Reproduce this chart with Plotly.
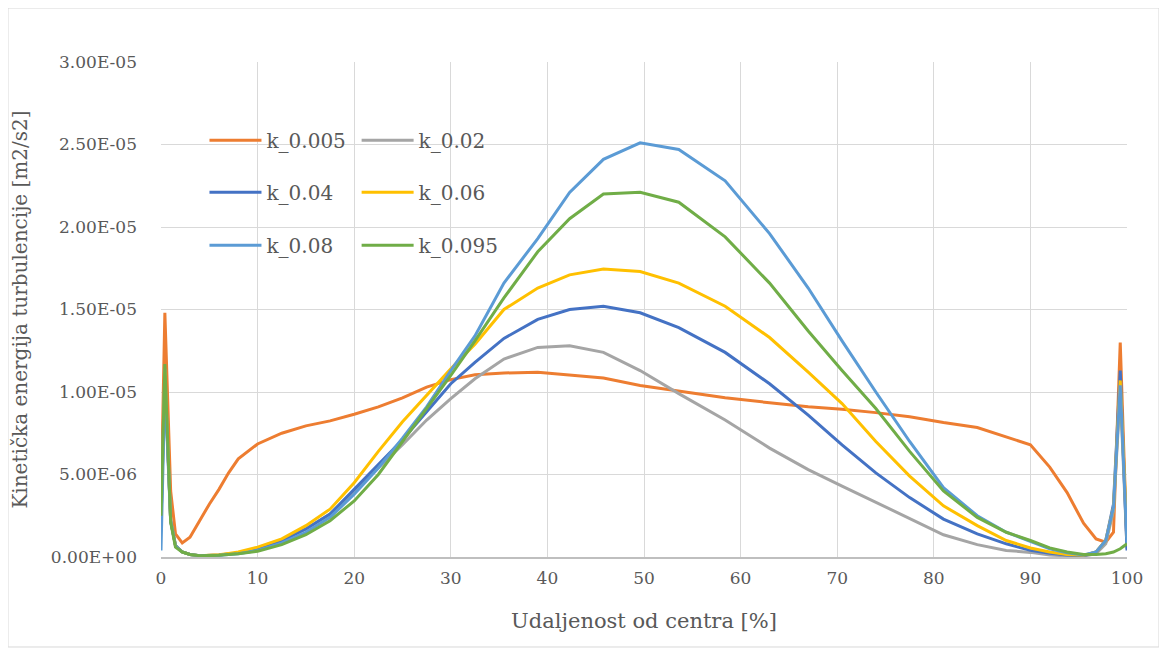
import numpy as np
import plotly.graph_objects as go

# distance from centre [%]
x_pos = [0, 0.4, 1.0, 1.5, 2.2, 3, 4, 5, 6, 7, 8, 10, 12.5, 15, 17.5, 20, 22.5, 25, 27.5, 30,
         32.5, 35.5, 39, 42.3, 45.8, 49.6, 53.6, 58.4, 63, 67, 70.5, 74, 77.5, 81, 84.5, 87.5,
         90, 92, 93.8, 95.5, 96.8, 97.8, 98.6, 99.3, 100]

# turbulent kinetic energy, in 1e-6 m2/s2
k_0005 = [3.0, 14.8, 4.0, 1.4, 0.85, 1.2, 2.2, 3.2, 4.1, 5.1, 5.95, 6.85, 7.5, 7.95, 8.25, 8.65,
          9.1, 9.65, 10.3, 10.75, 11.05, 11.15, 11.2, 11.05, 10.85, 10.4, 10.05, 9.65, 9.35, 9.1,
          8.95, 8.75, 8.5, 8.15, 7.85, 7.3, 6.8, 5.45, 3.9, 2.05, 1.1, 0.9, 1.5, 13.0, 0.6]
k_002 = [2.0, 11.4, 2.2, 0.7, 0.3, 0.15, 0.08, 0.08, 0.12, 0.18, 0.25, 0.5, 1.0, 1.7, 2.6, 4.0,
         5.4, 6.8, 8.3, 9.6, 10.8, 12.0, 12.7, 12.8, 12.4, 11.3, 9.9, 8.3, 6.6, 5.3, 4.3, 3.3,
         2.3, 1.35, 0.75, 0.4, 0.28, 0.12, 0.07, 0.05, 0.2, 0.8, 2.8, 10.0, 0.5]
k_004 = [2.0, 11.0, 2.2, 0.7, 0.3, 0.15, 0.08, 0.08, 0.12, 0.18, 0.25, 0.5, 1.0, 1.7, 2.6, 4.1,
         5.6, 7.1, 8.8, 10.5, 11.8, 13.25, 14.4, 15.0, 15.2, 14.8, 13.9, 12.4, 10.5, 8.6, 6.8,
         5.1, 3.6, 2.3, 1.4, 0.8, 0.4, 0.22, 0.12, 0.08, 0.3, 1.0, 3.2, 11.3, 0.4]
k_006 = [2.0, 11.2, 2.2, 0.7, 0.3, 0.15, 0.08, 0.1, 0.14, 0.22, 0.3, 0.6, 1.1, 1.9, 2.9, 4.5,
         6.4, 8.2, 9.8, 11.4, 12.9, 15.0, 16.3, 17.1, 17.45, 17.3, 16.6, 15.2, 13.3, 11.2, 9.3,
         7.0, 4.9, 3.1, 1.9, 1.0, 0.55, 0.3, 0.15, 0.1, 0.3, 1.0, 3.0, 10.7, 1.2]
k_008 = [0.4, 10.4, 2.2, 0.7, 0.3, 0.15, 0.08, 0.08, 0.1, 0.15, 0.2, 0.4, 0.85, 1.5, 2.4, 3.8,
         5.4, 7.2, 9.1, 11.3, 13.4, 16.6, 19.3, 22.1, 24.1, 25.1, 24.7, 22.8, 19.6, 16.3, 13.1,
         10.0, 7.0, 4.2, 2.5, 1.5, 0.95, 0.5, 0.25, 0.12, 0.3, 1.0, 3.0, 10.4, 0.8]
k_0095 = [2.5, 11.7, 2.1, 0.6, 0.3, 0.15, 0.08, 0.08, 0.1, 0.15, 0.2, 0.35, 0.75, 1.35, 2.2, 3.4,
          5.0, 7.0, 9.0, 11.0, 13.1, 15.7, 18.5, 20.5, 22.0, 22.1, 21.5, 19.4, 16.6, 13.7, 11.3,
          9.0, 6.4, 4.0, 2.4, 1.5, 1.0, 0.55, 0.3, 0.15, 0.15, 0.2, 0.3, 0.5, 0.8]

series_names = ["k_0.005", "k_0.02", "k_0.04", "k_0.06", "k_0.08", "k_0.095"]
series_colors = ["#ED7D31", "#A5A5A5", "#4472C4", "#FFC000", "#5B9BD5", "#70AD47"]
series_vals = [k_0005, k_002, k_004, k_006, k_008, k_0095]

y_tick_vals = [0, 5e-6, 1e-5, 1.5e-5, 2e-5, 2.5e-5, 3e-5]
y_tick_text = ["0.00E+00", "5.00E-06", "1.00E-05", "1.50E-05", "2.00E-05", "2.50E-05", "3.00E-05"]

font = "DejaVu Serif"
txt = "#595959"

# legend grid: 2 columns x 3 rows, one legend box per entry
leg_x = [0.045, 0.2025] * 3
leg_y = [0.842, 0.842, 0.737, 0.737, 0.630, 0.630]
leg_ids = ["legend"] + ["legend%d" % i for i in range(2, 7)]

fig = go.Figure()
for name, col, vals, lg in zip(series_names, series_colors, series_vals, leg_ids):
    fig.add_trace(go.Scatter(x=x_pos, y=np.array(vals) * 1e-6, mode="lines", name=name,
                             line=dict(color=col, width=3), legend=lg, showlegend=True))

legends = {}
for lg, lx, ly in zip(leg_ids, leg_x, leg_y):
    legends[lg] = dict(x=lx, y=ly, xanchor="left", yanchor="middle", bgcolor="rgba(0,0,0,0)",
                       font=dict(family=font, size=20, color=txt), itemwidth=52)

fig.update_layout(
    width=1167, height=654,
    margin=dict(l=153, r=48, t=54, b=105),
    paper_bgcolor="white", plot_bgcolor="white", showlegend=True,
    font=dict(family=font, size=17, color=txt),
    xaxis=dict(range=[0, 100], dtick=10, showgrid=True, gridcolor="#d9d9d9", gridwidth=1.3,
               zeroline=False, showline=True, linecolor="#bfbfbf", linewidth=1.5,
               ticks="", ticklabelstandoff=5, automargin=False,
               tickfont=dict(family=font, size=17, color=txt),
               title=dict(text="Udaljenost od centra [%]", standoff=26,
                          font=dict(family=font, size=21, color=txt))),
    yaxis=dict(range=[0, 3e-5], tickvals=y_tick_vals, ticktext=y_tick_text,
               showgrid=True, gridcolor="#d9d9d9", gridwidth=1.3, zeroline=False,
               showline=False, ticks="", ticklabelstandoff=23, automargin=False,
               tickfont=dict(family=font, size=17, color=txt),
               title=dict(text="Kinetička energija turbulencije [m2/s2]", standoff=22,
                          font=dict(family=font, size=20, color=txt))),
    shapes=[dict(type="rect", xref="paper", yref="paper", x0=-0.1584, x1=1.0331,
                 y0=-0.1818, y1=1.109, line=dict(color="#d9d9d9", width=1), layer="below")],
    **legends,
)

fig.write_html("out.html")
